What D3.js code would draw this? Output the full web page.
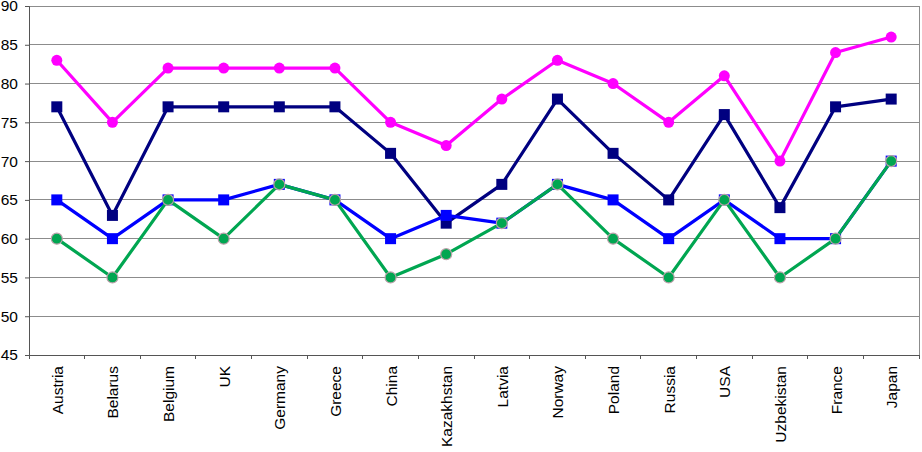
<!DOCTYPE html>
<html><head><meta charset="utf-8">
<script src="https://cdn.jsdelivr.net/npm/d3@7"></script>
<style>body{margin:0;background:#fff}svg{display:block;font-family:"Liberation Sans",Arial,sans-serif}</style>
</head><body><svg id="c" width="922" height="452"></svg>
<script>
const categories = ["Austria","Belarus","Belgium","UK","Germany","Greece","China","Kazakhstan","Latvia","Norway","Poland","Russia","USA","Uzbekistan","France","Japan"];
const seriesNavy    = [77,63,77,77,77,77,71,62,67,78,71,65,76,64,77,78];
const seriesBlue    = [65,60,65,65,67,65,60,63,62,67,65,60,65,60,60,70];
const seriesGreen   = [60,55,65,60,67,65,55,58,62,67,60,55,65,55,60,70];
const seriesMagenta = [83,75,82,82,82,82,75,72,78,83,80,75,81,70,84,86];
const yTicks = [45,50,55,60,65,70,75,80,85,90];

const svg = d3.select("#c");
const L = 29, R = 919, T = 6, B = 355;
const FS = 15.5;
const x = d3.scaleBand().domain(categories).range([L, R]);
const y = d3.scaleLinear().domain([45, 90]).range([B, T]);

// gridlines
svg.append("g").selectAll("line").data(yTicks).join("line")
  .attr("x1", L).attr("x2", R).attr("y1", d => y(d)).attr("y2", d => y(d))
  .attr("stroke", "#8c8c8c").attr("stroke-width", 1).attr("shape-rendering","crispEdges");
// right border
svg.append("line").attr("x1", R).attr("x2", R).attr("y1", T).attr("y2", B)
  .attr("stroke", "#8c8c8c").attr("shape-rendering","crispEdges");

// y axis
const ya = svg.append("g").attr("transform", `translate(${L},0)`)
  .call(d3.axisLeft(y).tickValues(yTicks).tickSize(4).tickPadding(7));
ya.attr("font-size", FS).attr("font-family", "Liberation Sans, Arial, sans-serif");
ya.select(".domain").attr("stroke", "#555");
ya.selectAll(".tick line").attr("stroke", "#555");
ya.selectAll("text").attr("fill", "#000");

// x axis
const xa = svg.append("g").attr("transform", `translate(0,${B})`)
  .call(d3.axisBottom(x).tickSize(0).tickPadding(0));
xa.attr("font-size", FS).attr("font-family", "Liberation Sans, Arial, sans-serif");
xa.select(".domain").attr("stroke", "#555");
xa.selectAll(".tick text").attr("fill", "#000")
  .attr("text-anchor", "end").attr("dy", null)
  .attr("transform", "translate(6,11) rotate(-90)");
// boundary ticks
const bounds = d3.range(categories.length + 1).map(i => L + i * x.bandwidth());
svg.append("g").selectAll("line").data(bounds).join("line")
  .attr("x1", d => d).attr("x2", d => d).attr("y1", B).attr("y2", B + 4)
  .attr("stroke", "#555").attr("shape-rendering","crispEdges");

const cx = d => x(d) + x.bandwidth() / 2;
const line = d3.line().x(d => cx(d[0])).y(d => y(d[1]));

function drawSeries(vals, color, shape, markerStroke) {
  const data = categories.map((c, i) => [c, vals[i]]);
  svg.append("path").datum(data).attr("d", line)
    .attr("fill", "none").attr("stroke", color).attr("stroke-width", 3.2).attr("stroke-linejoin","round");
  const g = svg.append("g");
  if (shape === "square") {
    g.selectAll("rect").data(data).join("rect")
      .attr("x", d => cx(d[0]) - 5.5).attr("y", d => y(d[1]) - 5.5)
      .attr("width", 11).attr("height", 11).attr("fill", color);
  } else {
    g.selectAll("circle").data(data).join("circle")
      .attr("cx", d => cx(d[0])).attr("cy", d => y(d[1])).attr("r", 5.5)
      .attr("fill", color).attr("stroke", markerStroke || "none").attr("stroke-width", 1.2);
  }
}
drawSeries(seriesMagenta, "#ff00ff", "circle");
drawSeries(seriesNavy, "#000080", "square");
drawSeries(seriesBlue, "#0000ff", "square");
drawSeries(seriesGreen, "#00a651", "circle", "#b8a0a8");
</script></body></html>
